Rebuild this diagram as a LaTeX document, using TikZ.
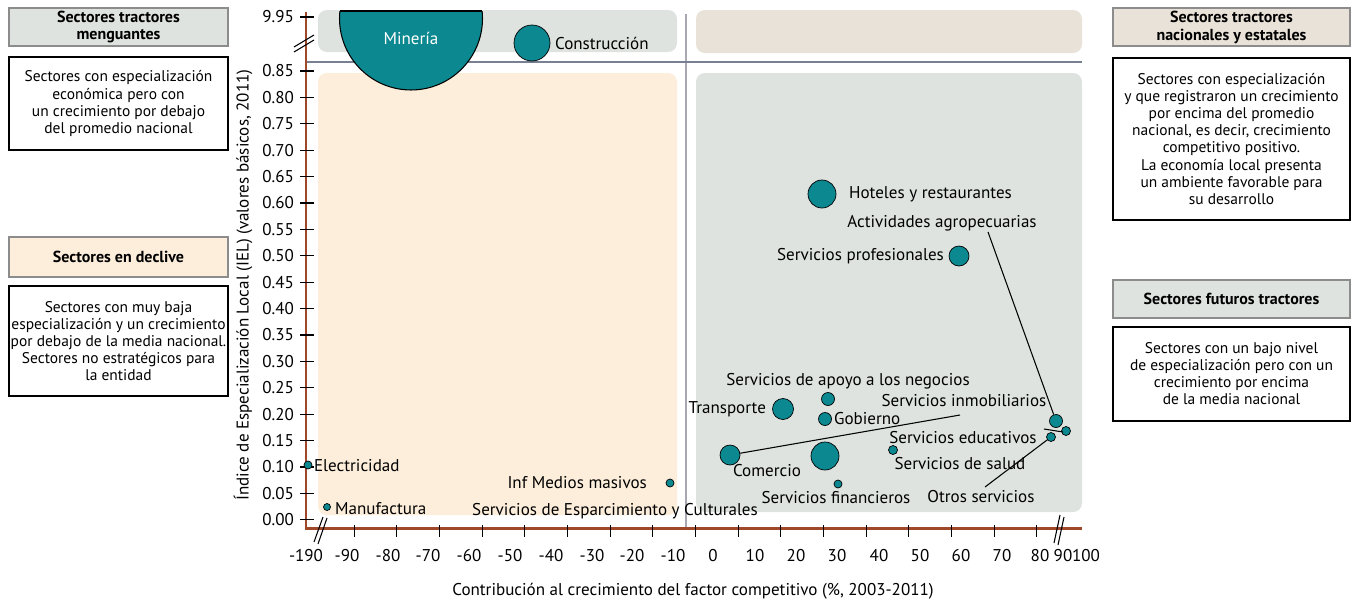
\documentclass[tikz,border=0pt]{standalone}
\usepackage{fontspec}
\setmainfont{PT Sans}
\usepackage{tikz}
\usetikzlibrary{positioning}
\definecolor{tealc}{HTML}{0C8890}
\definecolor{axisc}{HTML}{A0482A}
\definecolor{greyreg}{HTML}{DEE3E0}
\definecolor{beigereg}{HTML}{E9E2D8}
\definecolor{peachreg}{HTML}{FDEEDB}
\definecolor{vlinec}{HTML}{A8A8B2}
\definecolor{hlinec}{HTML}{7A8094}
\definecolor{hdrc}{HTML}{8C8C8C}

\begin{document}
\begin{tikzpicture}[
    x=0.02cm, y=-0.02cm,
    font=\fontsize{9.7}{11.6}\selectfont,
    bub/.style={circle, draw=black, fill=tealc, inner sep=0pt, minimum size=#1*0.02cm},
    lbl/.style={inner sep=1pt},
    tick/.style={black, line width=0.6pt},
    axis/.style={draw=axisc, line width=1.7pt},
    brk/.style={black, line width=0.6pt},
    hdr/.style={draw=hdrc, line width=1.2pt, align=center, inner sep=0pt, font=\fontsize{9.1}{10.2}\selectfont\bfseries},
    txtbox/.style={draw=black, line width=1.6pt, fill=white, align=center, inner sep=0pt, font=\fontsize{8.8}{9.7}\selectfont}
]
    \useasboundingbox (0,0) rectangle (1358,602);

    % Cuadrantes
    \fill[greyreg, rounded corners=5pt] (318,10) rectangle (677,52);
    \fill[beigereg, rounded corners=5pt] (696,10) rectangle (1082,53);
    \fill[peachreg, rounded corners=5pt] (318,73) rectangle (677,515);
    \fill[greyreg, rounded corners=5pt] (696,73) rectangle (1082,512);
    \draw[vlinec, line width=0.9pt] (686,14) -- (686,527);
    \draw[hlinec, line width=0.7pt] (306,62) -- (1082,62);

    % Ejes
    \draw[axis] (306,12) -- (306,528) -- (1082,528);
    \node[lbl, anchor=east] (y995) at (296,17) {9.95};
    \draw[tick] (300,17) -- (314,17);
    \foreach \lab [count=\i from 0] in {0.85,0.80,0.75,0.70,0.65,0.60,0.55,0.50,0.45,0.40,0.35,0.30,0.25,0.20,0.15,0.10,0.05,0.00} {
        \node[lbl, anchor=east] (ylab\i) at (296,71+26.4*\i) {\lab};
        \draw[tick] (300,71+26.4*\i) -- (314,71+26.4*\i);
    }
    \foreach \i in {0,...,16}
        \draw[tick] (354.3+42.65*\i,525) -- (354.3+42.65*\i,537);
    \foreach \xx/\lab [count=\i] in {306/-190,347/-90,388/-80,428/-70,469/-60,510/-50,551/-40,592/-30,632/-20,673/-10,
        713/0,755/10,796/20,837/30,879/40,920/50,961/60,1002/70,1040/80,1063/90,1086/100}
        \node[lbl] (xlab\i) at (\xx,556) {\lab};

    % Cortes de eje
    \draw[brk] (294,47) -- (314,35);
    \draw[brk] (294,52) -- (314,40);
    \draw[brk] (314,542) -- (323,517);
    \draw[brk] (318,544) -- (327,518);
    \draw[brk] (1054,543) -- (1060,515);
    \draw[brk] (1058,545) -- (1064,517);

    % Titulos de ejes
    \node[rotate=90] (ytit) at (243,285) {Índice de Especialización Local (IEL) (valores básicos, 2011)};
    \node (xtit) at (693,591) {Contribución al crecimiento del factor competitivo (\%, 2003-2011)};

    % Burbujas
    \begin{scope}
        \clip (320,11) rectangle (500,110);
        \draw[fill=tealc, line width=0.6pt] (411,18.5) circle (1.43cm);
    \end{scope}
    \draw[line width=0.6pt] (339.9,11) -- (482.1,11);
    \node[white] (min) at (411,38) {Minería};
    \node[bub=36] (con) at (532,43) {};
    \node[bub=28] (hot) at (822,194) {};
    \node[bub=20] (pro) at (959,256) {};
    \node[bub=13] (apo) at (828,399) {};
    \node[bub=21] (tra) at (783,409) {};
    \node[bub=13] (gob) at (825,419) {};
    \node[bub=20] (com) at (730,455) {};
    \node[bub=28] (sx1) at (825,456) {};
    \node[bub=8] (fin) at (838,484) {};
    \node[bub=9] (sal) at (893,450) {};
    \node[bub=13] (agr) at (1056,421) {};
    \node[bub=9] (inm) at (1066,431) {};
    \node[bub=9] (edu) at (1051,437) {};
    \node[bub=8] (ele) at (308,465) {};
    \node[bub=7] (man) at (327,507) {};
    \node[bub=8] (inf) at (670,483) {};

    % Etiquetas
    \node[lbl, anchor=west] (lcon) at (553,43) {Construcción};
    \node[lbl, anchor=west] (lhot) at (847,194) {Hoteles y restaurantes};
    \node[lbl] (lagr) at (942,223) {Actividades agropecuarias};
    \node[lbl, anchor=east] (lpro) at (946,256) {Servicios profesionales};
    \node[lbl] (lapo) at (848,381) {Servicios de apoyo a los negocios};
    \node[lbl, anchor=east] (ltra) at (768,409) {Transporte};
    \node[lbl, anchor=west] (lgob) at (832,419) {Gobierno};
    \node[lbl] (linm) at (964,401) {Servicios inmobiliarios};
    \node[lbl] (ledu) at (963,438) {Servicios educativos};
    \node[lbl] (lcom) at (767,471) {Comercio};
    \node[lbl] (lsal) at (960,464) {Servicios de salud};
    \node[lbl] (lfin) at (836,498) {Servicios financieros};
    \node[lbl] (lotr) at (981,497) {Otros servicios};
    \node[lbl, anchor=west] (lele) at (312,466) {Electricidad};
    \node[lbl, anchor=west] (lman) at (333,509) {Manufactura};
    \node[lbl, anchor=east] (linf) at (649,483) {Inf Medios masivos};
    \node[lbl] (lesp) at (615,511) {Servicios de Esparcimiento y Culturales};

    % Lineas guia
    \coordinate (agrtip) at (988,232);
    \coordinate (comtip) at (960,415);
    \coordinate (otrtip) at (985,487);
    \coordinate (mk1) at (1044,429);
    \coordinate (mk2) at (1063,432);
    \draw[line width=0.6pt] (agrtip) -- (agr);
    \draw[line width=0.6pt] (com) -- (comtip);
    \draw[line width=0.6pt] (otrtip) -- (edu);
    \draw[line width=0.6pt] (mk1) -- (mk2);

    % Recuadros izquierdos
    \node[hdr, fill=greyreg, minimum width=219*0.02cm, minimum height=38*0.02cm] (h1) at (118.5,27) {Sectores tractores\\menguantes};
    \node[txtbox, minimum width=219*0.02cm, minimum height=93*0.02cm] (b1) at (118.5,103.5) {Sectores con especialización\\económica pero con\\un crecimiento por debajo\\del promedio nacional};
    \node[hdr, fill=peachreg, minimum width=219*0.02cm, minimum height=40*0.02cm] (h2) at (118.5,257) {Sectores en declive};
    \node[txtbox, minimum width=219*0.02cm, minimum height=110*0.02cm] (b2) at (118.5,341) {Sectores con muy baja\\especialización y un crecimiento\\por debajo de la media nacional.\\Sectores no estratégicos para\\la entidad};

    % Recuadros derechos
    \node[hdr, fill=beigereg, minimum width=237*0.02cm, minimum height=38*0.02cm] (h3) at (1231.5,27) {Sectores tractores\\nacionales y estatales};
    \node[txtbox, minimum width=237*0.02cm, minimum height=162*0.02cm] (b3) at (1231.5,139) {Sectores con especialización\\y que registraron un crecimiento\\por encima del promedio\\nacional, es decir, crecimiento\\competitivo positivo.\\La economía local presenta\\un ambiente favorable para\\su desarrollo};
    \node[hdr, fill=greyreg, minimum width=237*0.02cm, minimum height=38*0.02cm] (h4) at (1231.5,299) {Sectores futuros tractores};
    \node[txtbox, minimum width=237*0.02cm, minimum height=94*0.02cm] (b4) at (1231.5,374) {Sectores con un bajo nivel\\de especialización pero con un\\crecimiento por encima\\de la media nacional};
\end{tikzpicture}
\end{document}
